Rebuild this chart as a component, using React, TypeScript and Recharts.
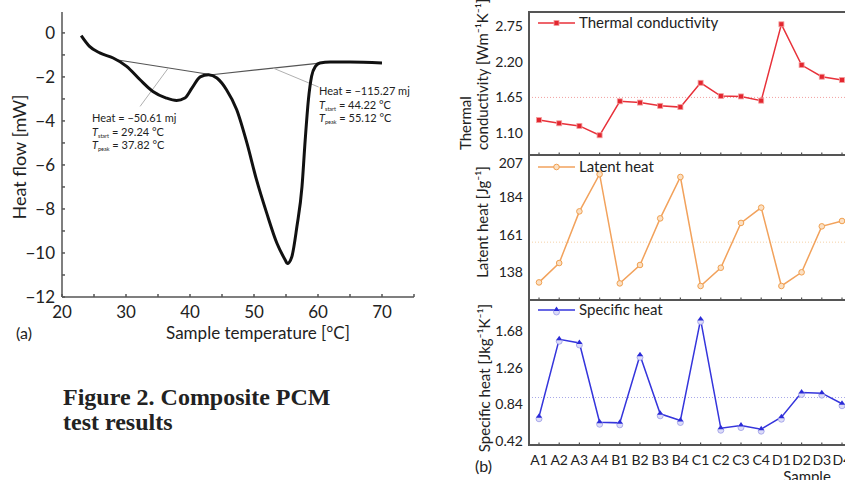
import React from "react";
import { LineChart, Line, XAxis, YAxis, ReferenceLine, Legend } from "recharts";

// (a) DSC curve
const temps = [23.0, 24.3, 25.9, 28.0, 30.1, 32.2, 34.2, 36.3, 37.9, 39.2, 40.3, 41.6, 42.9, 44.2, 45.7, 47.3, 48.9, 50.4, 52.0, 53.6, 54.9, 55.2, 55.9, 56.7, 57.5, 58.0, 58.5, 59.0, 59.6, 60.3, 61.9, 65.0, 70.0];
const heatFlow = [-0.12, -0.61, -0.91, -1.14, -1.52, -2.13, -2.66, -2.96, -3.07, -2.96, -2.51, -2.0, -1.9, -2.05, -2.58, -3.49, -5.01, -6.68, -8.2, -9.57, -10.33, -10.48, -10.18, -8.81, -6.99, -4.86, -3.04, -1.97, -1.52, -1.37, -1.32, -1.32, -1.37];
const tempTicks = [20, 25, 30, 35, 40, 45, 50, 55, 60, 65, 70, 75];
const flowTicks = [-12, -11, -10, -9, -8, -7, -6, -5, -4, -3, -2, -1, 0];
const baseline1 = [{ x: 28.5, y: -1.22 }, { x: 43.4, y: -1.9 }];
const baseline2 = [{ x: 43.4, y: -1.9 }, { x: 60.3, y: -1.37 }];
const leader1 = [{ x: 36.6, y: -1.6 }, { x: 32.2, y: -3.34 }];
const leader2 = [{ x: 53.0, y: -1.6 }, { x: 60.1, y: -2.46 }];

// (b) sample properties
const samples = ["A1", "A2", "A3", "A4", "B1", "B2", "B3", "B4", "C1", "C2", "C3", "C4", "D1", "D2", "D3", "D4"];
const thermal = [1.3, 1.25, 1.21, 1.065, 1.59, 1.57, 1.52, 1.5, 1.876, 1.67, 1.665, 1.6, 2.78, 2.15, 1.97, 1.92];
const latent = [131.8, 143.7, 175.4, 198.2, 131.2, 142.5, 171.1, 196.5, 129.6, 140.8, 168.3, 177.7, 129.6, 138.0, 166.2, 169.5];
const specific = [0.695, 1.588, 1.545, 0.632, 0.625, 1.403, 0.729, 0.652, 1.815, 0.563, 0.594, 0.552, 0.69, 0.975, 0.967, 0.845];
const thermalTicks = [1.1, 1.65, 2.2, 2.75];
const latentTicks = [138, 161, 184, 207];
const specificTicks = [0.42, 0.84, 1.26, 1.68];
const thermalMean = 1.65;
const latentMean = 156.5;
const specificMean = 0.917;

const dscData = temps.map((t, i) => ({ t, hf: heatFlow[i] }));
const sampleData = samples.map((s, i) => ({ s, k: thermal[i], h: latent[i], c: specific[i] }));

const FONT = 'Lato, "Open Sans", sans-serif';
const AXIS = "#555";
const TXT = "#222";
const minus = (v: number | string) => String(v).replace("-", "\u2212");

const squareDot = (cx: number, cy: number) => (
  <rect x={cx - 2.5} y={cy - 2.5} width={5} height={5} fill="#e3262f" stroke="#f4a0a0" strokeWidth={0.8} />
);
const circleDot = (cx: number, cy: number) => (
  <circle cx={cx} cy={cy} r={2.8} fill="#fbe0c4" stroke="#f0a050" strokeWidth={1} />
);
const triDot = (cx: number, cy: number) => (
  <g>
    <circle cx={cx} cy={cy + 2} r={3} fill="#dcdcf8" stroke="#9a9ae6" strokeWidth={0.8} />
    <path d={`M${cx},${cy - 3.5} L${cx + 3},${cy + 1} L${cx - 3},${cy + 1} Z`} fill="#2b2bd8" />
  </g>
);

const makeDot = (fn: (x: number, y: number) => React.ReactElement) => (p: any) => {
  if (p.cx == null || p.cy == null) return <g key={p.key} />;
  return <g key={p.key}>{fn(p.cx, p.cy)}</g>;
};

const legendContent = (label: string, color: string, marker: (x: number, y: number) => React.ReactElement) => () => (
  <svg width={200} height={18} style={{ display: "block" }}>
    <line x1={0} y1={9} x2={37} y2={9} stroke={color} strokeWidth={1.5} />
    {marker(18.5, 9)}
    <text x={41} y={14} fontSize={15} fill={TXT} fontFamily={FONT}>{label}</text>
  </svg>
);

const emptyTick = () => <g />;

type PanelProps = {
  top: number;
  height: number;
  dataKey: string;
  domain: [number, number];
  ticks: number[];
  fmt: (v: number) => string;
  color: string;
  mean: number;
  meanColor: string;
  marker: (x: number, y: number) => React.ReactElement;
  label: string;
  legendTop: number;
  bottomAxis?: boolean;
};

const Panel = (p: PanelProps) => (
  <div style={{ position: "absolute", left: 469, top: p.top }}>
    <LineChart width={388} height={p.height} data={sampleData} margin={{ top: 0, right: 5, left: 0, bottom: 0 }}>
      <XAxis
        dataKey="s"
        interval={0}
        padding={{ left: 10, right: 10 }}
        height={p.bottomAxis ? 35 : 1}
        axisLine={false}
        tickSize={-2.5}
        tickMargin={13}
        tickLine={{ stroke: AXIS, strokeWidth: 1.2 }}
        tick={p.bottomAxis ? { fontSize: 14, fill: TXT, fontFamily: FONT } : emptyTick}
      />
      <YAxis
        type="number"
        domain={p.domain}
        ticks={p.ticks}
        allowDataOverflow
        width={60}
        axisLine={false}
        tickLine={false}
        tickSize={0}
        tickMargin={6}
        tickFormatter={p.fmt}
        tick={{ fontSize: 14, fill: TXT, fontFamily: FONT }}
      />
      <ReferenceLine y={p.mean} stroke={p.meanColor} strokeDasharray="1 2" strokeWidth={1} />
      <Legend
        layout="vertical"
        align="center"
        verticalAlign="middle"
        wrapperStyle={{ left: 69, top: p.legendTop, width: 200 }}
        content={legendContent(p.label, p.color, p.marker)}
      />
      <Line
        dataKey={p.dataKey}
        stroke={p.color}
        strokeWidth={1.5}
        dot={makeDot(p.marker)}
        isAnimationActive={false}
      />
    </LineChart>
  </div>
);

const Annot = ({ x, y, heat, ts, tp }: { x: number; y: number; heat: string; ts: string; tp: string }) => (
  <g fontSize={11} fill={TXT} fontFamily={FONT}>
    <text x={x} y={y}>Heat = {heat} mj</text>
    <text x={x} y={y + 13.5}>
      <tspan fontStyle="italic">T</tspan>
      <tspan fontSize={5.5} dy={2}>start</tspan>
      <tspan dy={-2}> = {ts} °C</tspan>
    </text>
    <text x={x} y={y + 27}>
      <tspan fontStyle="italic">T</tspan>
      <tspan fontSize={5.5} dy={2}>peak</tspan>
      <tspan dy={-2}> = {tp} °C</tspan>
    </text>
  </g>
);

const line = (style: React.CSSProperties) => (
  <div style={{ position: "absolute", background: AXIS, pointerEvents: "none", ...style }} />
);

export default function App() {
  return (
    <div style={{ position: "absolute", left: 0, top: 0, width: 845, height: 480, overflow: "hidden", background: "#fff" }}>
      <div style={{ position: "absolute", left: 0, top: 0 }}>
        <LineChart width={420} height={340} data={dscData} margin={{ top: 12, right: 6, left: 0, bottom: 0 }}>
          <XAxis
            type="number"
            dataKey="t"
            domain={[20, 75]}
            ticks={tempTicks}
            allowDataOverflow
            height={43}
            tickSize={-3}
            tickMargin={12}
            tickFormatter={(v: number) => (v % 10 === 0 && v <= 70 ? String(v) : "")}
            tick={{ fontSize: 17, fill: TXT, fontFamily: FONT }}
            stroke={AXIS}
            strokeWidth={1.5}
          />
          <XAxis xAxisId="top" orientation="top" type="number" dataKey="t" domain={[20, 75]} height={0} tick={false} tickLine={false} stroke="#777" strokeWidth={1.5} />
          <YAxis
            type="number"
            domain={[-12, 0.95]}
            ticks={flowTicks}
            allowDataOverflow
            width={62}
            tickSize={-3}
            tickMargin={10}
            tickFormatter={(v: number) => (v % 2 === 0 ? minus(v) : "")}
            tick={{ fontSize: 17, fill: TXT, fontFamily: FONT }}
            stroke={AXIS}
            strokeWidth={1.5}
          />
          <YAxis yAxisId="right" orientation="right" type="number" domain={[-12, 0.95]} width={0} tick={false} tickLine={false} stroke="#777" strokeWidth={1.5} />
          <ReferenceLine segment={baseline1} stroke="#555" strokeWidth={1.2} />
          <ReferenceLine segment={baseline2} stroke="#555" strokeWidth={1.2} />
          <ReferenceLine segment={leader1} stroke="#b0b0b0" strokeWidth={1} />
          <ReferenceLine segment={leader2} stroke="#b0b0b0" strokeWidth={1} />
          <Line dataKey="hf" type="monotone" stroke="#111" strokeWidth={3} dot={false} isAnimationActive={false} />
        </LineChart>
      </div>

      <Panel
        top={12}
        height={144}
        dataKey="k"
        domain={[0.76, 2.97]}
        ticks={thermalTicks}
        fmt={(v) => v.toFixed(2)}
        color="#e8313a"
        mean={thermalMean}
        meanColor="#f2a0a0"
        marker={squareDot}
        label="Thermal conductivity"
        legendTop={2}
      />
      <Panel
        top={155}
        height={146}
        dataKey="h"
        domain={[121, 210]}
        ticks={latentTicks}
        fmt={(v) => String(v)}
        color="#f2a25c"
        mean={latentMean}
        meanColor="#f5d2a8"
        marker={circleDot}
        label="Latent heat"
        legendTop={3}
      />
      <Panel
        top={300}
        height={180}
        dataKey="c"
        domain={[0.37, 2.04]}
        ticks={specificTicks}
        fmt={(v) => v.toFixed(2)}
        color="#3535dc"
        mean={specificMean}
        meanColor="#a8a8e8"
        marker={triDot}
        label="Specific heat"
        legendTop={1}
        bottomAxis
      />

      {/* panel frame of (b) */}
      {line({ left: 528, top: 11, width: 1.5, height: 435 })}
      {line({ left: 528, top: 11, width: 330, height: 1.5 })}
      {line({ left: 528, top: 154, width: 330, height: 1.5 })}
      {line({ left: 528, top: 299, width: 330, height: 1.5 })}
      {line({ left: 528, top: 444, width: 330, height: 1.5 })}

      <svg width={845} height={480} style={{ position: "absolute", left: 0, top: 0, pointerEvents: "none" }}>
        <g fontFamily={FONT} fill={TXT}>
          <text transform="translate(26,157) rotate(-90)" textAnchor="middle" fontSize={18}>Heat flow [mW]</text>
          <text x={258} y={339} textAnchor="middle" fontSize={17}>Sample temperature [°C]</text>
          <text x={16} y={339} fontSize={16}>(a)</text>
          <Annot x={92} y={122} heat={"\u221250.61"} ts="29.24" tp="37.82" />
          <Annot x={319} y={95} heat={"\u2212115.27"} ts="44.22" tp="55.12" />

          <text transform="translate(471,150) rotate(-90)" fontSize={15}>Thermal</text>
          <text transform="translate(488,150) rotate(-90)" fontSize={15}>conductivity [Wm⁻¹K⁻¹]</text>
          <text transform="translate(488,222) rotate(-90)" textAnchor="middle" fontSize={15}>Latent heat [Jg⁻¹]</text>
          <text transform="translate(490,378) rotate(-90)" textAnchor="middle" fontSize={15}>Specific heat [Jkg⁻¹K⁻¹]</text>
          <text x={475} y={472} fontSize={16}>(b)</text>
          <text x={807} y={482} textAnchor="middle" fontSize={15}>Sample</text>
        </g>
        <g fontFamily='"Liberation Serif", "DejaVu Serif", serif' fontWeight="bold" fontSize={24} fill="#222">
          <text x={63} y={405}>Figure 2. Composite PCM</text>
          <text x={63} y={430}>test results</text>
        </g>
      </svg>
    </div>
  );
}
